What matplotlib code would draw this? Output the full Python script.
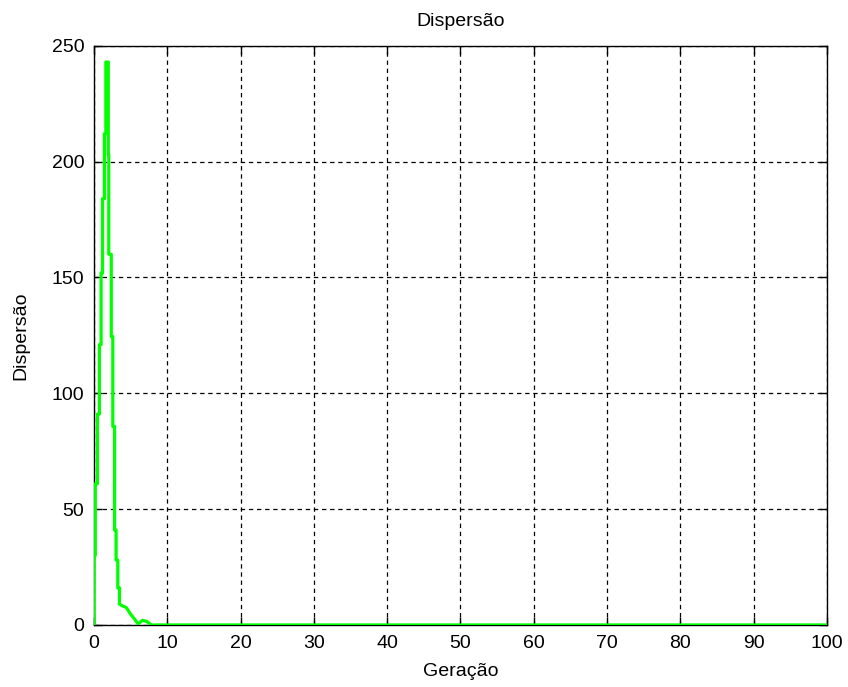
#!/usr/bin/env python3

"""
Dispersao por geracao (estilo MATLAB)
"""

import matplotlib
matplotlib.use("Agg")
import matplotlib.pyplot as plt

# valores (escada de subida, pico, descida e cauda)
geracao = [0, 0, 0.16, 0.16, 0.45, 0.45, 0.72, 0.72, 0.95, 0.95,
           1.15, 1.15, 1.4, 1.4, 1.6, 1.6, 1.93, 1.93, 2.0, 2.0,
           2.34, 2.34, 2.55, 2.55, 2.79, 2.79, 3.0, 3.0, 3.23, 3.23,
           3.46, 3.46, 3.7, 4.4, 4.9, 5.4, 6.0, 6.6, 7.2, 7.8, 100]
dispersao = [0, 30, 30, 61, 61, 91, 91, 121, 121, 152,
             152, 184, 184, 212, 212, 243, 243, 203, 203, 160,
             160, 124.5, 124.5, 85.7, 85.7, 41, 41, 28, 28, 16,
             16, 9, 8.5, 7.5, 5, 3, 0.5, 2, 1.5, 0, 0]

x_ticks = list(range(0, 101, 10))
y_ticks = list(range(0, 251, 50))

plt.rcParams["font.family"] = ["Liberation Sans", "DejaVu Sans"]
plt.rcParams["font.size"] = 14

fig = plt.figure(figsize=(8.48, 6.87), dpi=100)
ax = fig.add_axes([0.111, 0.0903, 0.864, 0.843])

ax.plot(geracao, dispersao, color="#00ff00", lw=2.3, zorder=3)

ax.set_xlim(0, 100)
ax.set_ylim(0, 250)
ax.set_xticks(x_ticks)
ax.set_yticks(y_ticks)
ax.grid(True, color="black", linestyle=(0, (3.5, 3)), linewidth=0.9)
ax.tick_params(direction="in", top=True, right=True, length=6, width=1, pad=7)
for s in ax.spines.values():
    s.set_linewidth(1.0)

ax.set_title("Dispersão", fontsize=14, pad=14)
ax.set_xlabel("Geração", labelpad=8)
ax.set_ylabel("Dispersão", labelpad=16)

plt.savefig("out.png", dpi=100)
